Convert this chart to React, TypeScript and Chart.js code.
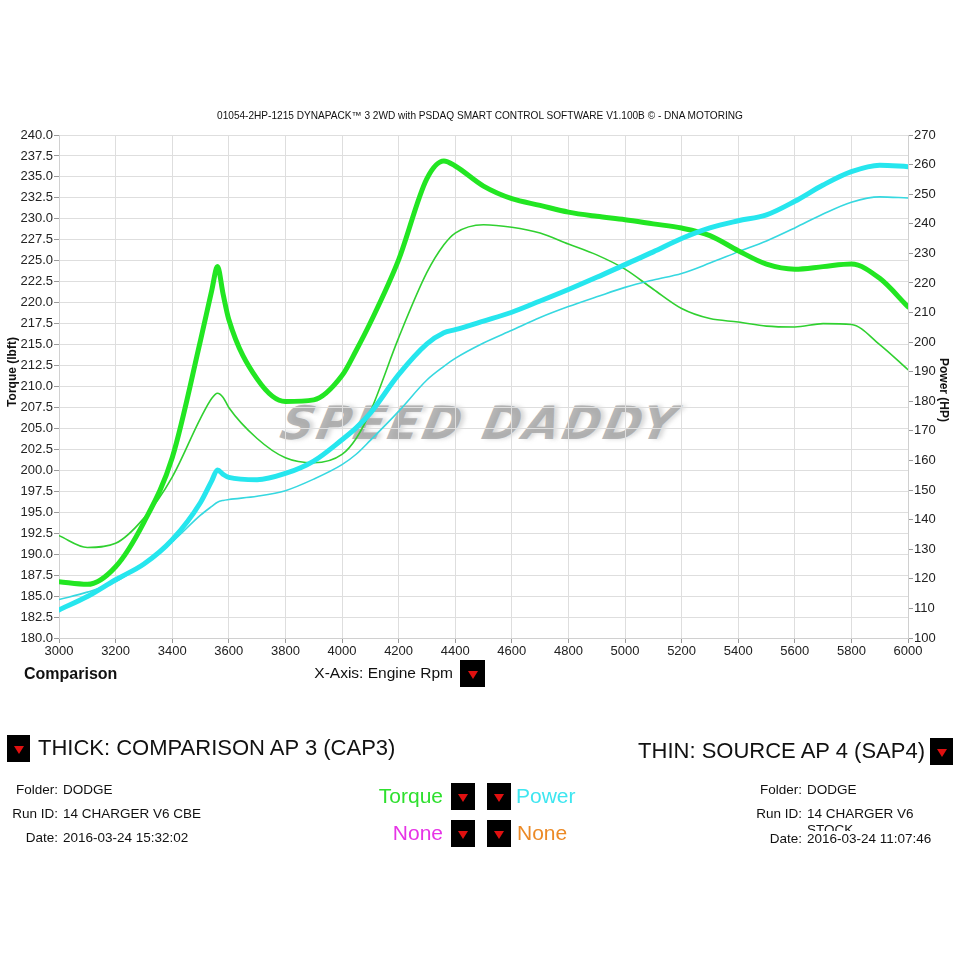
import React, { useEffect, useRef } from 'react';
import { Chart, registerables } from 'chart.js';
Chart.register(...registerables);

const RPM = [3000, 3100, 3200, 3300, 3400, 3500, 3540, 3560, 3580, 3600, 3700, 3800, 3900, 4000, 4050, 4100, 4200, 4300, 4360, 4400, 4500, 4600, 4700, 4800, 4900, 5000, 5100, 5200, 5300, 5400, 5500, 5600, 5700, 5800, 5900, 6000];

const THICK_TORQUE = [186.7, 186.4, 188.5, 193.8, 201.5, 215.5, 221.5, 224.3, 221.0, 218.0, 210.9, 208.2, 208.4, 211.3, 214.3, 217.6, 225.1, 234.8, 236.9, 236.3, 233.9, 232.4, 231.6, 230.8, 230.3, 229.9, 229.4, 228.9, 228.0, 226.2, 224.6, 224.0, 224.3, 224.6, 222.9, 219.5];
const THIN_TORQUE = [192.2, 190.8, 191.3, 194.3, 199.2, 206.2, 208.6, 209.2, 208.7, 207.5, 203.8, 201.5, 200.9, 201.9, 203.8, 207.0, 215.8, 223.6, 226.9, 228.3, 229.3, 229.0, 228.3, 227.0, 225.7, 224.0, 221.6, 219.3, 218.1, 217.7, 217.2, 217.1, 217.5, 217.4, 215.0, 212.0];
const THICK_POWER = [109.5, 114.0, 119.7, 125.0, 133.2, 145.8, 153.2, 156.8, 155.3, 154.3, 153.5, 155.6, 159.8, 167.0, 171.0, 176.0, 189.0, 199.4, 203.2, 204.2, 207.1, 210.1, 213.9, 217.8, 221.9, 226.2, 230.5, 235.0, 238.6, 241.0, 243.0, 247.6, 253.1, 257.6, 259.8, 259.3];
const THIN_POWER = [113.0, 115.5, 119.0, 125.2, 132.5, 141.5, 144.5, 145.9, 146.5, 146.8, 147.9, 149.8, 153.7, 158.6, 162.1, 166.8, 176.6, 187.2, 191.8, 194.5, 199.7, 204.0, 208.3, 212.0, 215.3, 218.5, 221.0, 223.2, 226.7, 230.5, 234.2, 238.6, 243.3, 247.3, 249.1, 248.7];

const TITLE = '01054-2HP-1215 DYNAPACK\u2122 3 2WD with PSDAQ SMART CONTROL SOFTWARE V1.100B \u00A9 - DNA MOTORING';

const FONT = '"Liberation Sans", Arial, sans-serif';

const pts = (ys: number[]) => RPM.map((x, i) => ({ x, y: ys[i] }));

const Txt = ({ x, y, size, color = '#111', align = 'left', weight = 400, children, style = {} }: any) => {
  const lh = Math.round(size * 1.2);
  const s: any = {
    position: 'absolute', top: y - lh / 2, fontSize: size, lineHeight: lh + 'px', color,
    fontWeight: weight, whiteSpace: 'nowrap', fontFamily: FONT, zIndex: 2,
  };
  if (align === 'left') s.left = x;
  else if (align === 'right') s.right = 960 - x;
  else { s.left = x; s.transform = 'translateX(-50%)'; }
  return <div style={{ ...s, ...style }}>{children}</div>;
};

const VTxt = ({ x, y, size, rot, children }: any) => (
  <div style={{
    position: 'absolute', left: x, top: y, transform: `translate(-50%, -50%) rotate(${rot}deg)`,
    fontSize: size, lineHeight: '14px', fontWeight: 'bold', color: '#111', whiteSpace: 'nowrap', fontFamily: FONT, zIndex: 2,
  }}>{children}</div>
);

const Box = ({ x, y, w = 24, h = 27 }: any) => (
  <div style={{ position: 'absolute', left: x, top: y, width: w, height: h, background: '#000', zIndex: 2 }}>
    <div style={{
      position: 'absolute', left: w / 2 - 5, top: h / 2 - 3, width: 0, height: 0,
      borderLeft: '5px solid transparent', borderRight: '5px solid transparent', borderTop: '8px solid #e01010',
    }} />
  </div>
);

export default function App() {
  const ref = useRef<HTMLCanvasElement>(null);
  useEffect(() => {
    if (!ref.current) return;
    Chart.defaults.font.family = FONT;
    const line = (data: number[], axis: string, color: string, width: number) => ({
      data: pts(data), yAxisID: axis, borderColor: color, borderWidth: width, pointRadius: 0,
      cubicInterpolationMode: 'monotone', fill: false, borderCapStyle: 'round', borderJoinStyle: 'round',
    });
    const chart = new Chart(ref.current, {
      type: 'line',
      data: {
        datasets: [
          { label: 'Power thick', ...line(THICK_POWER, 'y1', '#26e6ee', 5) },
          { label: 'Torque thick', ...line(THICK_TORQUE, 'y', '#22e622', 5) },
          { label: 'Power thin', ...line(THIN_POWER, 'y1', '#36d8e0', 1.6) },
          { label: 'Torque thin', ...line(THIN_TORQUE, 'y', '#30d030', 1.6) },
        ] as any,
      },
      options: {
        animation: false,
        responsive: false,
        devicePixelRatio: 1,
        layout: { padding: { top: 135, bottom: 292, left: 0, right: 0 } },
        plugins: { legend: { display: false }, tooltip: { enabled: false }, title: { display: false } },
        scales: {
          x: {
            type: 'linear', min: 3000, max: 6000,
            ticks: { stepSize: 200, color: '#222', font: { size: 13 }, padding: 1, maxRotation: 0, callback: (v: any) => String(v) },
            grid: { color: '#dedede', tickColor: '#999', tickLength: 5 },
            border: { color: '#d0d0d0' },
            afterFit: (s: any) => { s.height = 30; },
          },
          y: {
            position: 'left', min: 180, max: 240,
            ticks: { stepSize: 2.5, color: '#222', font: { size: 13 }, padding: 1, callback: (v: any) => Number(v).toFixed(1) },
            grid: { color: '#dedede', tickColor: '#999', tickLength: 5 },
            border: { color: '#d0d0d0' },
            afterFit: (s: any) => { s.width = 59; },
          },
          y1: {
            position: 'right', min: 100, max: 270,
            ticks: { stepSize: 10, color: '#222', font: { size: 13 }, padding: 1, callback: (v: any) => String(v) },
            grid: { drawOnChartArea: false, tickColor: '#999', tickLength: 5 },
            border: { color: '#d0d0d0' },
            afterFit: (s: any) => { s.width = 52; },
          },
        },
      } as any,
    });
    return () => chart.destroy();
  }, []);

  return (
    <div style={{ position: 'absolute', left: 0, top: 0, width: 960, height: 960, background: '#fff', overflow: 'hidden', fontFamily: FONT }}>
      <div style={{
        position: 'absolute', left: 480, top: 398, transform: 'translateX(-50%) skewX(-12deg)', fontFamily: '"DejaVu Sans", sans-serif',
        fontWeight: 'bold', fontStyle: 'italic', fontSize: 46, lineHeight: '50px', letterSpacing: '3px', color: 'rgba(160,160,160,0.75)',
        whiteSpace: 'nowrap', zIndex: 0, textShadow: '4px 0 4px rgba(170,170,170,0.45)',
      }}>SPEED DADDY</div>
      <canvas ref={ref} width={960} height={960} style={{ position: 'absolute', left: 0, top: 0, width: 960, height: 960, zIndex: 1 }} />

      <Txt x={480} y={116} size={10.1} align="center" color="#111">{TITLE}</Txt>
      <VTxt x={12} y={372} size={12} rot={-90}>Torque (lbft)</VTxt>
      <VTxt x={944} y={390} size={12} rot={90}>Power (HP)</VTxt>

      <Txt x={24} y={673} size={16} weight="bold">Comparison</Txt>
      <Txt x={453} y={672} size={15.5} align="right">X-Axis: Engine Rpm</Txt>
      <Box x={460} y={660} w={25} h={27} />

      <Box x={7} y={735} w={23} h={27} />
      <Txt x={38} y={748} size={22}>THICK: COMPARISON AP 3 (CAP3)</Txt>
      <Txt x={925} y={751} size={22} align="right">THIN: SOURCE AP 4 (SAP4)</Txt>
      <Box x={930} y={738} w={23} h={27} />

      <Txt x={58} y={790} size={13.5} align="right">Folder:</Txt>
      <Txt x={63} y={790} size={13.5}>DODGE</Txt>
      <Txt x={58} y={814} size={13.5} align="right">Run ID:</Txt>
      <Txt x={63} y={814} size={13.5}>14 CHARGER V6 CBE</Txt>
      <Txt x={58} y={838} size={13.5} align="right">Date:</Txt>
      <Txt x={63} y={838} size={13.5}>2016-03-24 15:32:02</Txt>

      <Txt x={443} y={795} size={21} align="right" color="#2ee02e">Torque</Txt>
      <Box x={451} y={783} w={24} h={27} />
      <Box x={487} y={783} w={24} h={27} />
      <Txt x={516} y={795} size={21} color="#3ee6f0">Power</Txt>
      <Txt x={443} y={832} size={21} align="right" color="#e634e6">None</Txt>
      <Box x={451} y={820} w={24} h={27} />
      <Box x={487} y={820} w={24} h={27} />
      <Txt x={517} y={832} size={21} color="#ec8a26">None</Txt>

      <Txt x={802} y={790} size={13.5} align="right">Folder:</Txt>
      <Txt x={807} y={790} size={13.5}>DODGE</Txt>
      <Txt x={802} y={814} size={13.5} align="right">Run ID:</Txt>
      <div style={{ position: 'absolute', left: 807, top: 806, width: 118, height: 25, overflow: 'hidden', fontSize: 13.5, lineHeight: '16px', fontFamily: FONT, color: '#111', zIndex: 2 }}>14 CHARGER V6 STOCK</div>
      <Txt x={802} y={839} size={13.5} align="right">Date:</Txt>
      <Txt x={807} y={839} size={13.5}>2016-03-24 11:07:46</Txt>
    </div>
  );
}
